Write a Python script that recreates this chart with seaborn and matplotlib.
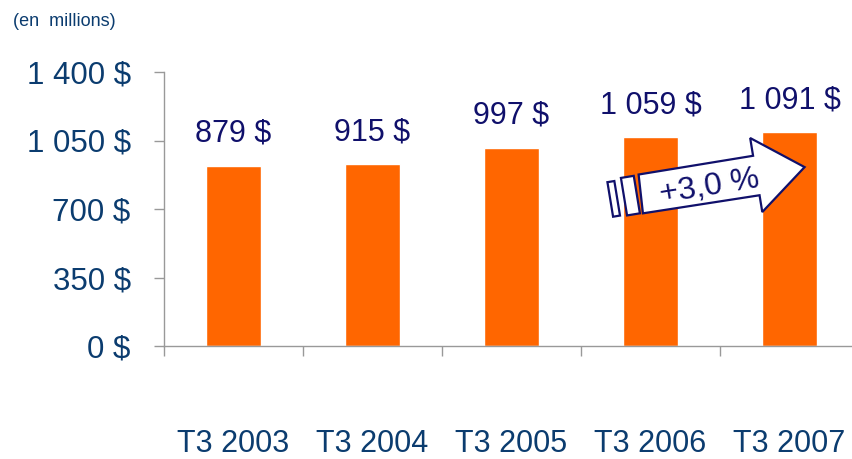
import matplotlib
matplotlib.use("Agg")
import matplotlib.pyplot as plt
import matplotlib.patches as mpatches
from matplotlib.transforms import Affine2D
import seaborn as sns
import pandas as pd

# données (en millions) - hauteurs, étiquettes du graphique
trimestres = ["T3 2003", "T3 2004", "T3 2005", "T3 2006", "T3 2007"]
hauteurs = [920, 928, 1012, 1068, 1093]
etiquettes = ["879 $", "915 $", "997 $", "1 059 $", "1 091 $"]
y_ticks = [0, 350, 700, 1050, 1400]
y_labels = ["0 $", "350 $", "700 $", "1 050 $", "1 400 $"]
croissance = "+3,0 %"

ORANGE = "#FF6600"
BLEU = "#0B3C6F"
MARINE = "#10106B"

sns.set_style("white")
plt.rcParams["font.family"] = ["Liberation Sans", "DejaVu Sans"]

df = pd.DataFrame({"Trimestre": trimestres, "Valeur": hauteurs})

fig = plt.figure(figsize=(8.53, 4.59), dpi=100)
ax = fig.add_axes([164 / 853, 113 / 459, 695 / 853, 274 / 459])

sns.barplot(data=df, x="Trimestre", y="Valeur", color=ORANGE, width=0.4,
            saturation=1, ax=ax)

ax.set_xlim(-0.5, len(trimestres) - 0.5)
ax.set_ylim(0, 1400)
ax.set_xlabel("")
ax.set_ylabel("")

# axes gris, seulement gauche et bas
for s in ["top", "right"]:
    ax.spines[s].set_visible(False)
for s in ["left", "bottom"]:
    ax.spines[s].set_color("#999999")
    ax.spines[s].set_linewidth(1)

ax.set_yticks(y_ticks)
ax.set_yticklabels(y_labels, fontsize=22.5, color=BLEU)
ax.tick_params(axis="y", direction="out", length=7, width=1, color="#999999", pad=17, left=True)

# graduations x entre les catégories
ax.set_xticks(range(len(trimestres)))
ax.set_xticklabels(trimestres, fontsize=22, color=BLEU)
ax.set_xticks([i - 0.5 for i in range(len(trimestres) + 1)], minor=True)
ax.tick_params(axis="x", which="major", length=0, pad=60)
ax.tick_params(axis="x", which="minor", direction="out", length=7, width=1,
               color="#999999", bottom=True)

# étiquettes de valeur au-dessus des barres
for i, (h, lab) in enumerate(zip(hauteurs, etiquettes)):
    ax.annotate(lab, xy=(i, h), xytext=(0, 23), textcoords="offset points",
                ha="center", va="center", fontsize=22, color=MARINE)

fig.text(13 / 853, 1 - 22 / 459, "(en  millions)", fontsize=13, color=BLEU,
         ha="left", va="center")

# flèche de croissance (forme bloc, inclinée)
angle = 9.3
origine = ax.transAxes.transform((0.686, 0.555))
trans = Affine2D().rotate_deg(angle).translate(*origine)

fleche = [(1, 19.5), (117, 19.5), (117, 37.5), (166, 0), (117, -37.5),
          (117, -20.5), (-1, -19.5)]
rayures = [[(-17, 19), (-4, 19), (-4, -19), (-17, -19)],
           [(-31, 17), (-24, 17), (-24, -18), (-31, -18)]]

for pts in [fleche] + rayures:
    poly = mpatches.Polygon(pts, closed=True, facecolor="white", edgecolor=MARINE,
                            linewidth=1.6, transform=trans, zorder=5)
    fig.add_artist(poly)

cx, cy = trans.transform((69, -4))
fig.text(cx / 853, cy / 459, croissance, fontsize=23, color=MARINE, rotation=angle,
         ha="center", va="center", rotation_mode="anchor", zorder=6)

plt.savefig("out.png", dpi=100)
